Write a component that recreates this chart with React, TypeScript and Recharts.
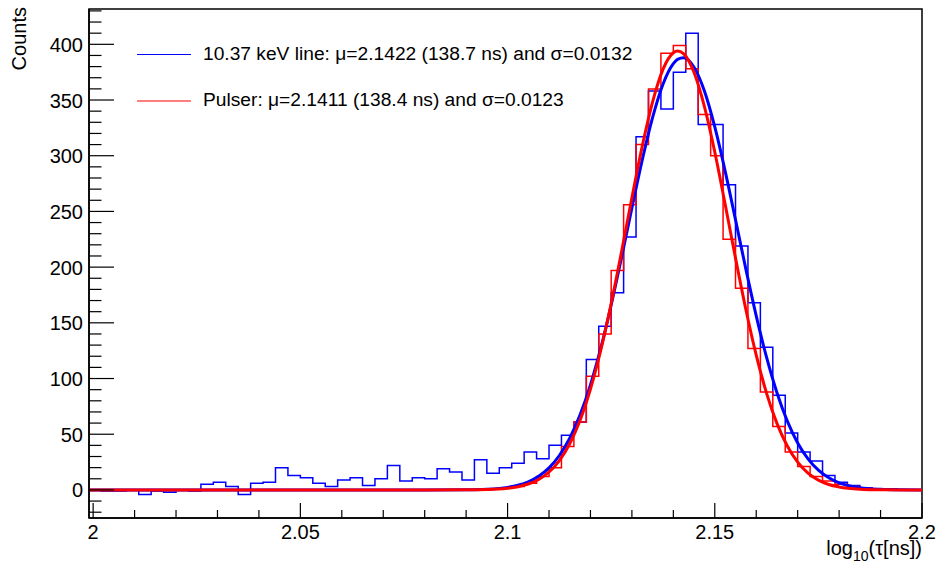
import { ComposedChart, Line, XAxis, YAxis, ReferenceArea, Legend } from 'recharts'

const FONT = '"Liberation Sans", Arial, Helvetica, sans-serif'

const X_MIN = 1.999
const X_MAX = 2.2
const BIN_WIDTH = 0.003
const Y_MIN = -25.2
const Y_MAX = 431.7

// 67 bins of 0.003 from 1.999 to 2.2
const blueCounts = [
  0, -1, -1, 0, -4, -1, -2, 0, -1, 5,
  7, 3, -4, 6, 7, 20, 13, 11, 6, 3,
  9, 11, 4, 10, 22, 8, 11, 10, 19, 16,
  9, 27, 15, 20, 24, 34, 28, 40, 49, 61,
  117, 147, 177, 227, 317, 358, 342, 375, 410, 328,
  328, 274, 219, 168, 128, 85, 51, 34, 26, 13,
  7, 4, 2, 1, 1, 0, 0,
]

const redCounts = [
  0, 0, 0, 0, 0, 0, 0, 0, 0, 0,
  0, 0, 0, 0, 0, 0, 0, 0, 0, 0,
  0, 0, 0, 0, 0, 0, 0, 0, 0, 0,
  0, 0, 1, 2, 3, 6, 12, 20, 39, 61,
  102, 140, 197, 256, 310, 360, 392, 399, 378, 337,
  300, 225, 181, 127, 88, 57, 34, 21, 12, 8,
  5, 3, 2, 1, 0, 0, 0,
]

// fitted curves, sampled off the plot
const fitX = [
  1.999, 2.05, 2.08, 2.09, 2.095, 2.1, 2.1025, 2.105, 2.1075, 2.11,
  2.1125, 2.115, 2.1175, 2.12, 2.1225, 2.125, 2.1275, 2.13, 2.1325, 2.135,
  2.1375, 2.14, 2.141, 2.1425, 2.145, 2.1475, 2.15, 2.1525, 2.155, 2.1575,
  2.16, 2.1625, 2.165, 2.1675, 2.17, 2.1725, 2.175, 2.1775, 2.18, 2.185,
  2.19, 2.195, 2.2,
]
const blueFit = [
  0, 0, 0, 0.16, 0.65, 2.3, 4.2, 7.3, 12.3, 19.8,
  30.9, 46.4, 67.4, 94.3, 127.4, 166.0, 208.7, 253.1, 296.2, 334.4,
  364.2, 382.6, 386.5, 388.0, 379.4, 358.0, 325.8, 286.2, 242.5, 198.2,
  156.3, 118.9, 87.3, 61.8, 42.2, 27.9, 17.7, 10.9, 6.4, 2.0,
  0.55, 0.13, 0.03,
]
const redFit = [
  0, 0, 0, 0.07, 0.35, 1.5, 2.9, 5.3, 9.4, 16.1,
  26.4, 41.5, 62.5, 90.5, 125.6, 167.2, 213.8, 262.2, 308.6, 348.4,
  377.5, 392.4, 394.0, 391.5, 374.7, 344.1, 303.3, 256.4, 208.1, 162.0,
  121.0, 86.7, 59.7, 39.4, 24.9, 15.1, 8.8, 4.9, 2.7, 0.7,
  0.15, 0.03, 0,
]

const xTicks = [
  2, 2.01, 2.02, 2.03, 2.04, 2.05, 2.06, 2.07, 2.08, 2.09, 2.1,
  2.11, 2.12, 2.13, 2.14, 2.15, 2.16, 2.17, 2.18, 2.19, 2.2,
]
const xLabels = [2, 2.05, 2.1, 2.15, 2.2]

const yTicks = [
  -20, -10, 0, 10, 20, 30, 40, 50, 60, 70, 80, 90, 100, 110, 120, 130, 140, 150,
  160, 170, 180, 190, 200, 210, 220, 230, 240, 250, 260, 270, 280, 290, 300,
  310, 320, 330, 340, 350, 360, 370, 380, 390, 400, 410, 420, 430,
]
const yLabels = [0, 50, 100, 150, 200, 250, 300, 350, 400]

function histPoints(counts: number[]) {
  const pts = counts.map((c, i) => ({ x: +(X_MIN + i * BIN_WIDTH).toFixed(3), y: c }))
  pts.push({ x: X_MAX, y: counts[counts.length - 1] })
  return pts
}

const blueHist = histPoints(blueCounts)
const redHist = histPoints(redCounts)
const blueCurve = fitX.map((x, i) => ({ x, y: blueFit[i] }))
const redCurve = fitX.map((x, i) => ({ x, y: redFit[i] }))

const isLabel = (list: number[], v: number) => list.some((l) => Math.abs(l - v) < 1e-6)

function XTick(props: any) {
  const { x, y, payload } = props
  const major = isLabel(xLabels, payload.value)
  return (
    <g>
      <line x1={x} x2={x} y1={y} y2={y - (major ? 15 : 8)} stroke="#000" strokeWidth={1.2} />
      {major && (
        <text x={x} y={y + 20.5} textAnchor="middle" fontSize={20} fontFamily={FONT} fill="#000">
          {String(payload.value)}
        </text>
      )}
    </g>
  )
}

function YTick(props: any) {
  const { x, y, payload } = props
  const major = isLabel(yLabels, payload.value)
  return (
    <g>
      <line x1={x} x2={x + (major ? 25 : 12.5)} y1={y} y2={y} stroke="#000" strokeWidth={1.2} />
      {major && (
        <text x={x - 6} y={y + 7.5} textAnchor="end" fontSize={20} fontFamily={FONT} fill="#000">
          {String(payload.value)}
        </text>
      )}
    </g>
  )
}

function Overlay() {
  return (
    <svg width={940} height={567} style={{ position: 'absolute', left: 0, top: 0, pointerEvents: 'none' }}>
      <line x1={137} x2={191} y1={54.5} y2={54.5} stroke="#0000ff" strokeWidth={1.2} />
      <text x={203} y={59.5} fontSize={19.2} fontFamily={FONT} fill="#000">
        10.37 keV line: μ=2.1422 (138.7 ns) and σ=0.0132
      </text>
      <line x1={137} x2={191} y1={101} y2={101} stroke="#ff0000" strokeWidth={1.2} />
      <text x={203} y={106} fontSize={19.2} fontFamily={FONT} fill="#000">
        Pulser: μ=2.1411 (138.4 ns) and σ=0.0123
      </text>
      <text transform="translate(26,7) rotate(-90)" textAnchor="end" fontSize={20} fontFamily={FONT} fill="#000">
        Counts
      </text>
      <text x={922} y={555} textAnchor="end" fontSize={20} fontFamily={FONT} fill="#000">
        log
        <tspan fontSize={14} dy={6}>10</tspan>
        <tspan dy={-6}>(τ[ns])</tspan>
      </text>
    </svg>
  )
}

export default function App() {
  return (
    <div style={{ position: 'absolute', left: 0, top: 0, width: 940, height: 567, background: '#fff' }}>
      <ComposedChart width={940} height={567} margin={{ top: 9, right: 18, left: 29, bottom: 19 }}>
        <XAxis
          type="number"
          dataKey="x"
          domain={[X_MIN, X_MAX]}
          ticks={xTicks}
          interval={0}
          allowDataOverflow
          height={30}
          tickSize={0}
          tickMargin={0}
          tickLine={false}
          axisLine={{ stroke: '#000', strokeWidth: 1.5 }}
          tick={(p: any) => <XTick {...p} />}
        />
        <YAxis
          type="number"
          domain={[Y_MIN, Y_MAX]}
          ticks={yTicks}
          interval={0}
          allowDataOverflow
          width={60}
          tickSize={0}
          tickMargin={0}
          tickLine={false}
          axisLine={{ stroke: '#000', strokeWidth: 1.5 }}
          tick={(p: any) => <YTick {...p} />}
        />
        <ReferenceArea
          x1={X_MIN}
          x2={X_MAX}
          y1={Y_MIN}
          y2={Y_MAX}
          fill="none"
          stroke="#000"
          strokeWidth={1.5}
          fillOpacity={0}
          ifOverflow="visible"
        />
        <Line data={blueHist} dataKey="y" type="stepAfter" stroke="#0000ff" strokeWidth={1.5} dot={false} isAnimationActive={false} />
        <Line data={redHist} dataKey="y" type="stepAfter" stroke="#ff0000" strokeWidth={1.5} dot={false} isAnimationActive={false} />
        <Line data={blueCurve} dataKey="y" type="monotone" stroke="#0000ff" strokeWidth={3} dot={false} isAnimationActive={false} />
        <Line data={redCurve} dataKey="y" type="monotone" stroke="#ff0000" strokeWidth={3} dot={false} isAnimationActive={false} />
        <Legend
          layout="horizontal"
          verticalAlign="middle"
          align="center"
          wrapperStyle={{ position: 'absolute', left: 0, top: 0, width: 940, height: 0 }}
          content={() => <Overlay />}
        />
      </ComposedChart>
    </div>
  )
}
